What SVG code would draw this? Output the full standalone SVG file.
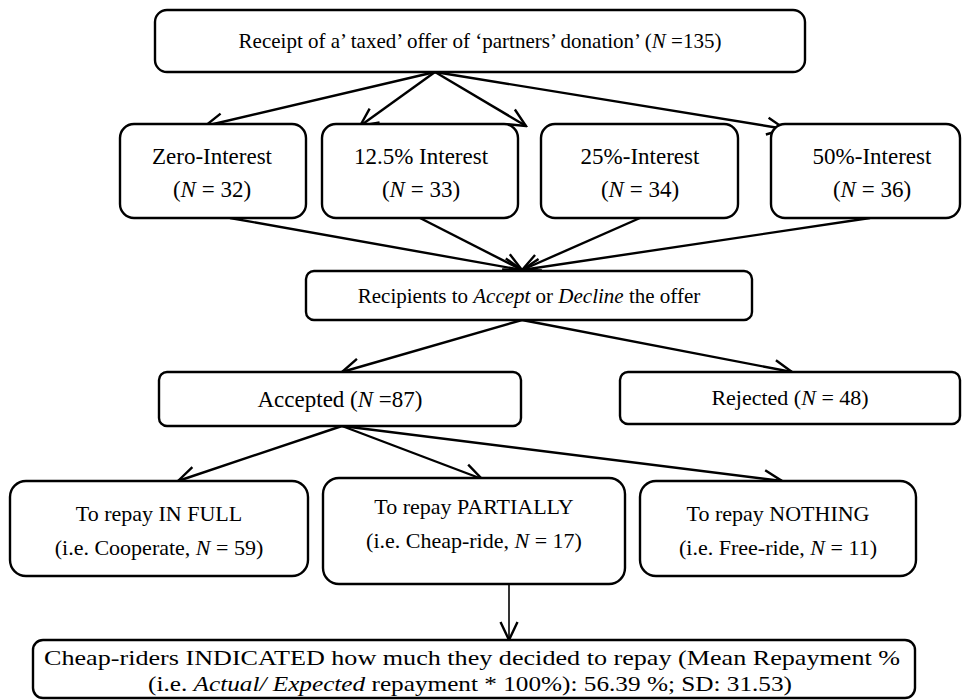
<svg xmlns="http://www.w3.org/2000/svg" width="964" height="700" viewBox="0 0 964 700">
<defs>
<style>
.box{fill:#fff;stroke:#000;stroke-width:2.4}
text{font-family:"Liberation Serif","Times New Roman",serif;font-size:21px;fill:#000;text-anchor:middle}
.i{font-style:italic}
.f23{font-size:23px}
.f22{font-size:22px}
.c{stroke:#000;stroke-width:2.4;fill:none}
.t{stroke:#000;stroke-width:1.6;fill:none}
</style>
<marker id="ah" viewBox="0 0 24 24" refX="22" refY="12" markerWidth="24" markerHeight="24" markerUnits="userSpaceOnUse" orient="auto">
<polyline points="4,3.5 22,12 4,20.5" fill="none" stroke="#000" stroke-width="2.4"/>
</marker>
</defs>
<rect width="964" height="700" fill="#fff"/>
<g id="connectors">
<line class="c" x1="435" y1="72" x2="205" y2="126" marker-end="url(#ah)"/>
<line class="c" x1="435" y1="72" x2="360" y2="126" marker-end="url(#ah)"/>
<line class="c" x1="435" y1="72" x2="526" y2="126" marker-end="url(#ah)"/>
<line class="c" x1="435" y1="72" x2="785" y2="129" marker-end="url(#ah)"/>
<line class="c" x1="230" y1="218" x2="522" y2="270" marker-end="url(#ah)"/>
<line class="c" x1="420" y1="218" x2="522" y2="270" marker-end="url(#ah)"/>
<line class="c" x1="640" y1="218" x2="522" y2="270" marker-end="url(#ah)"/>
<line class="c" x1="870" y1="218" x2="522" y2="270" marker-end="url(#ah)"/>
<line class="c" x1="522" y1="320" x2="342" y2="372" marker-end="url(#ah)"/>
<line class="c" x1="522" y1="320" x2="792" y2="372" marker-end="url(#ah)"/>
<line class="c" x1="342" y1="426" x2="178" y2="481" marker-end="url(#ah)"/>
<line class="c" x1="342" y1="426" x2="482" y2="479" marker-end="url(#ah)"/>
<line class="c" x1="342" y1="426" x2="782" y2="481" marker-end="url(#ah)"/>
<line class="t" x1="509" y1="584" x2="509" y2="640" marker-end="url(#ah)"/>
</g>
<g id="n-top">
<rect class="box" x="155" y="10" width="650" height="62" rx="12"/>
<text x="480" y="48">Receipt of a’ taxed’ offer of ‘partners’ donation’ (<tspan class="i">N</tspan> =135)</text>
</g>
<g id="n-zero">
<rect class="box" x="120" y="124" width="186" height="94" rx="14"/>
<text class="f23" x="212" y="164">Zero-Interest</text>
<text class="f23" x="212" y="197">(<tspan class="i">N</tspan> = 32)</text>
</g>
<g id="n-12">
<rect class="box" x="322" y="124" width="196" height="94" rx="14"/>
<text class="f23" x="421" y="164">12.5% Interest</text>
<text class="f23" x="421" y="197">(<tspan class="i">N</tspan> = 33)</text>
</g>
<g id="n-25">
<rect class="box" x="541" y="124" width="197" height="94" rx="14"/>
<text class="f23" x="640" y="164">25%-Interest</text>
<text class="f23" x="640" y="197">(<tspan class="i">N</tspan> = 34)</text>
</g>
<g id="n-50">
<rect class="box" x="771" y="124" width="189" height="94" rx="14"/>
<text class="f23" x="872" y="164">50%-Interest</text>
<text class="f23" x="872" y="197">(<tspan class="i">N</tspan> = 36)</text>
</g>
<g id="n-recip">
<rect class="box" x="306" y="271" width="446" height="49" rx="8"/>
<text x="529" y="303">Recipients to <tspan class="i">Accept</tspan> or <tspan class="i">Decline</tspan> the offer</text>
</g>
<g id="n-acc">
<rect class="box" x="159" y="372" width="362" height="54" rx="8"/>
<text class="f23" x="340" y="407">Accepted (<tspan class="i">N</tspan> =87)</text>
</g>
<g id="n-rej">
<rect class="box" x="620" y="372" width="340" height="52" rx="8"/>
<text class="f22" x="790" y="405">Rejected (<tspan class="i">N</tspan> = 48)</text>
</g>
<g id="n-full">
<rect class="box" x="10" y="481" width="298" height="95" rx="16"/>
<text class="f22" x="159" y="521">To repay IN FULL</text>
<text class="f22" x="159" y="555">(i.e. Cooperate, <tspan class="i">N</tspan> = 59)</text>
</g>
<g id="n-part">
<rect class="box" x="323" y="478" width="302" height="106" rx="16"/>
<text class="f22" x="474" y="514">To repay PARTIALLY</text>
<text class="f22" x="474" y="548">(i.e. Cheap-ride, <tspan class="i">N</tspan> = 17)</text>
</g>
<g id="n-noth">
<rect class="box" x="640" y="481" width="276" height="95" rx="16"/>
<text class="f22" x="778" y="521">To repay NOTHING</text>
<text class="f22" x="778" y="555">(i.e. Free-ride, <tspan class="i">N</tspan> = 11)</text>
</g>
<g id="n-cheap">
<rect class="box" x="33" y="640" width="882" height="58" rx="10"/>
<text class="f22" x="472" y="665" textLength="856" lengthAdjust="spacingAndGlyphs">Cheap-riders INDICATED how much they decided to repay (Mean Repayment %</text>
<text class="f22" x="470" y="691" textLength="644" lengthAdjust="spacingAndGlyphs">(i.e. <tspan class="i">Actual/ Expected</tspan> repayment * 100%): 56.39 %; SD: 31.53)</text>
</g>
</svg>
